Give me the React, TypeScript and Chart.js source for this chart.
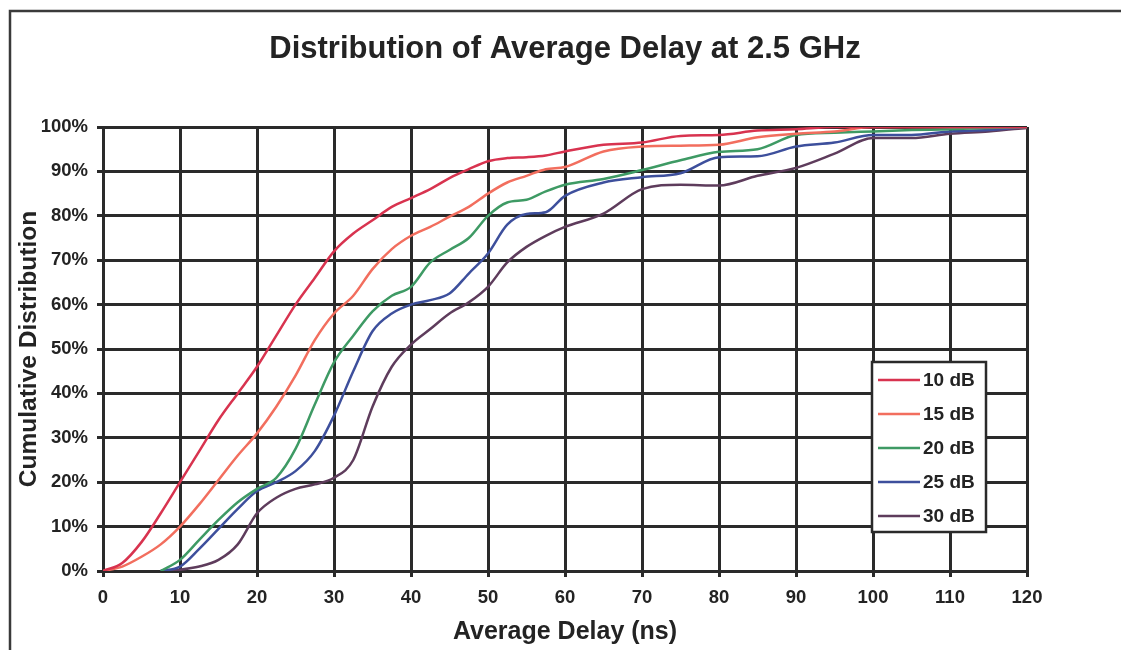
import React, { useEffect, useRef } from 'react';
import { Chart, registerables } from 'chart.js';

Chart.register(...registerables);

const CHART_TITLE = 'Distribution of Average Delay at 2.5 GHz';
const X_TITLE = 'Average Delay (ns)';
const Y_TITLE = 'Cumulative Distribution';

const DELAY_NS = [
  0, 2.5, 5, 7.5, 10, 12.5, 15, 17.5, 20, 22.5, 25, 27.5, 30, 32.5, 35, 37.5, 40, 42.5, 45, 47.5, 50,
  52.5, 55, 57.5, 60, 65, 70, 75, 80, 85, 90, 95, 100, 105, 110, 115, 120,
];

const SERIES_LABELS = ['10 dB', '15 dB', '20 dB', '25 dB', '30 dB'];
const SERIES_COLORS = ['#d8334f', '#f26e5e', '#3e9a64', '#3d4f9c', '#5e3c5c'];

const CDF_10DB = [
  0, 1.8, 6.5, 13, 20, 27, 34, 40, 46, 53, 60, 66, 72, 76, 79, 82, 84, 86, 88.5, 90.5, 92.3,
  93, 93.2, 93.6, 94.5, 96, 96.5, 98, 98.2, 99.2, 99.5, 100, 100, 100, 100, 100, 100,
];
const CDF_15DB = [
  0, 1, 3.2, 6, 10, 15, 20.5, 26, 31, 37, 44, 52, 58, 62, 68, 72.5, 75.5, 77.5, 79.8, 82, 85,
  87.5, 89, 90.5, 91, 94.5, 95.6, 95.8, 96, 97.7, 98.5, 99, 100, 100, 100, 100, 100,
];
const CDF_20DB = [
  null, null, null, 0, 2.5, 7, 11.5, 15.5, 18.5, 21, 27.5, 37.5, 47, 53, 58.5, 62, 64, 69.5, 72.3, 75, 80,
  83, 83.6, 85.5, 87, 88.3, 90.3, 92.5, 94.4, 95, 98.2, 98.7, 99, 99.3, 99.5, 99.8, 100,
];
const CDF_25DB = [
  null, null, null, 0, 1, 5, 9.5, 14, 18, 20, 22.5, 27, 35, 45, 54, 58, 60, 61, 62.5, 67, 71.5,
  78, 80.4, 80.8, 84.5, 87.5, 88.7, 89.6, 93.2, 93.4, 95.6, 96.5, 98.2, 98.2, 99, 99.3, 100,
];
const CDF_30DB = [
  null, null, null, 0, 0.3, 1, 2.5, 6, 13, 16.5, 18.5, 19.5, 21, 25, 37, 46, 51, 54.5, 58, 60.5, 64,
  69.5, 73, 75.5, 77.5, 80.5, 86, 87, 86.8, 89, 90.8, 94, 97.5, 97.5, 98.5, 99, 99.8,
];

const SERIES_VALUES = [CDF_10DB, CDF_15DB, CDF_20DB, CDF_25DB, CDF_30DB];

const X_MIN = 0;
const X_MAX = 120;
const X_STEP = 10;
const Y_MIN = 0;
const Y_MAX = 100;
const Y_STEP = 10;

const FONT = '"Liberation Sans", Arial, Helvetica, sans-serif';
const INK = '#232323';
const GRID = '#2a2a2a';

const framePlugin = {
  id: 'scanFrame',
  beforeDraw(chart: any) {
    const ctx = chart.ctx;
    ctx.save();
    ctx.strokeStyle = '#3a3a3a';
    ctx.lineWidth = 2.5;
    ctx.beginPath();
    ctx.moveTo(10, 650);
    ctx.lineTo(10, 11);
    ctx.lineTo(1121, 11);
    ctx.stroke();
    ctx.restore();
  },
};

const boxLegendPlugin = {
  id: 'boxLegend',
  afterDatasetsDraw(chart: any) {
    const ctx = chart.ctx;
    const { right, bottom } = chart.chartArea;
    const boxL = right - 155;
    const boxR = right - 41;
    const boxT = bottom - 209;
    const boxB = bottom - 39;
    ctx.save();
    ctx.fillStyle = '#ffffff';
    ctx.fillRect(boxL, boxT, boxR - boxL, boxB - boxT);
    ctx.strokeStyle = GRID;
    ctx.lineWidth = 2.5;
    ctx.strokeRect(boxL, boxT, boxR - boxL, boxB - boxT);
    const rowH = (boxB - boxT) / chart.data.datasets.length;
    ctx.font = `bold 19px ${FONT}`;
    ctx.textBaseline = 'middle';
    ctx.textAlign = 'left';
    chart.data.datasets.forEach((ds: any, i: number) => {
      const y = boxT + rowH * (i + 0.5) + 1;
      ctx.strokeStyle = ds.borderColor;
      ctx.lineWidth = 2.5;
      ctx.beginPath();
      ctx.moveTo(boxL + 6, y);
      ctx.lineTo(boxL + 48, y);
      ctx.stroke();
      ctx.fillStyle = INK;
      ctx.fillText(ds.label, boxL + 51, y + 1);
    });
    ctx.restore();
  },
};

export default function App() {
  const canvasRef = useRef<HTMLCanvasElement | null>(null);

  useEffect(() => {
    if (!canvasRef.current) return;
    const datasets = SERIES_LABELS.map((label, i) => ({
      label,
      data: DELAY_NS.map((x, j) => ({ x, y: SERIES_VALUES[i][j] })),
      borderColor: SERIES_COLORS[i],
      backgroundColor: SERIES_COLORS[i],
      borderWidth: 2.5,
      pointRadius: 0,
      fill: false,
      cubicInterpolationMode: 'monotone' as const,
      spanGaps: false,
    }));

    const chart = new Chart(canvasRef.current, {
      type: 'line',
      data: { datasets },
      options: {
        animation: false,
        responsive: false,
        devicePixelRatio: 1,
        layout: { padding: { left: 0, right: 94, top: 0, bottom: 0 } },
        plugins: {
          legend: { display: false },
          tooltip: { enabled: false },
          title: {
            display: true,
            fullSize: false,
            text: CHART_TITLE,
            color: INK,
            font: { family: FONT, size: 31, weight: 'bold' },
            padding: { top: 31, bottom: 58.8 },
          },
        },
        scales: {
          x: {
            type: 'linear',
            min: X_MIN,
            max: X_MAX,
            ticks: {
              stepSize: X_STEP,
              color: INK,
              font: { family: FONT, size: 18.5, weight: 'bold' },
              padding: 10,
              maxRotation: 0,
            },
            grid: { color: GRID, lineWidth: 3, tickLength: 6, drawTicks: true },
            border: { color: GRID, width: 3 },
            title: {
              display: true,
              text: X_TITLE,
              color: INK,
              font: { family: FONT, size: 25, weight: 'bold' },
              padding: { top: 10, bottom: 3 },
            },
            afterFit: (s: any) => {
              s.height = 79;
            },
          },
          y: {
            type: 'linear',
            min: Y_MIN,
            max: Y_MAX,
            ticks: {
              stepSize: Y_STEP,
              color: INK,
              font: { family: FONT, size: 18.5, weight: 'bold' },
              padding: 9,
              callback: (v: any) => `${v}%`,
            },
            grid: { color: GRID, lineWidth: 3, tickLength: 6, drawTicks: true },
            border: { color: GRID, width: 3 },
            title: {
              display: true,
              text: Y_TITLE,
              color: INK,
              font: { family: FONT, size: 24.5, weight: 'bold' },
              padding: { top: 15, bottom: 4 },
            },
            afterFit: (s: any) => {
              s.width = 103;
            },
          },
        },
      },
      plugins: [framePlugin, boxLegendPlugin],
    });
    return () => chart.destroy();
  }, []);

  return (
    <div style={{ position: 'absolute', left: 0, top: 0, width: 1121, height: 650, background: '#fff' }}>
      <canvas ref={canvasRef} width={1121} height={650} />
    </div>
  );
}
